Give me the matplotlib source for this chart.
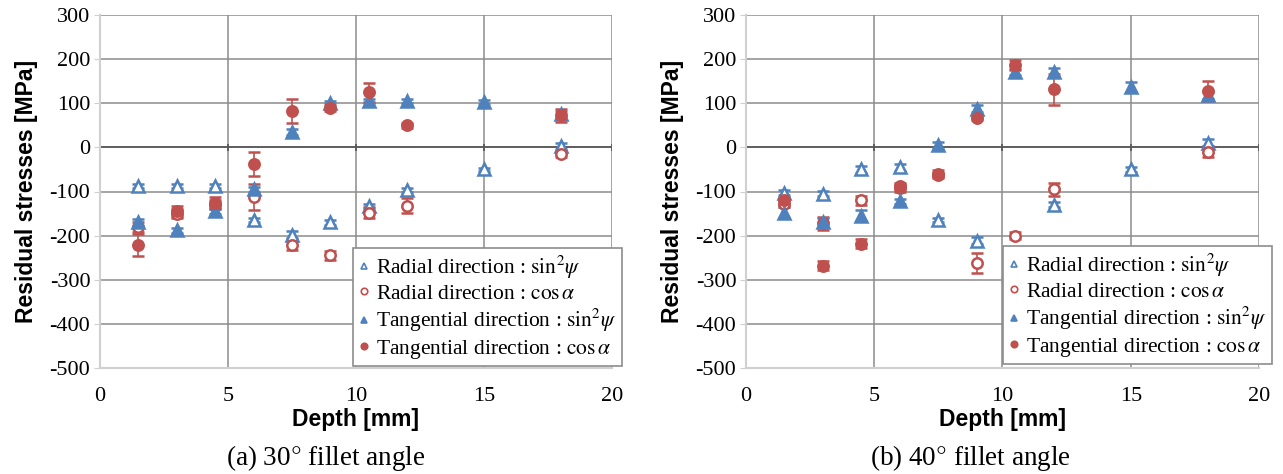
import numpy as np
import matplotlib
matplotlib.use("Agg")
import matplotlib.pyplot as plt
from matplotlib.lines import Line2D

plt.rcParams["font.family"] = ["Liberation Serif", "DejaVu Serif"]
plt.rcParams["mathtext.fontset"] = "stix"
plt.rcParams["axes.unicode_minus"] = False

nan = np.nan

# depth positions [mm]
depth = [1.5, 3, 4.5, 6, 7.5, 9, 10.5, 12, 15, 18]

# (a) 30 deg fillet angle
a_rad_sin = [-87, -87, -87, -165, -198, -170, -133, -97, -50, 3]
a_rad_sin_err = [5, 5, 5, 5, 8, 6, 5, 4, 4, 6]
a_rad_cos = [-180, -150, -130, -113, -222, -245, -148, -132, nan, -15]
a_rad_cos_err = [12, 10, 10, 30, 10, 10, 12, 17, 0, 7]
a_tan_sin = [-170, -188, -145, -95, 35, 100, 105, 105, 103, 75]
a_tan_sin_err = [8, 6, 6, 6, 6, 6, 5, 4, 4, 8]
a_tan_cos = [-222, -145, -125, -37, 83, 90, 125, 50, nan, 73]
a_tan_cos_err = [25, 12, 12, 27, 27, 8, 22, 5, 0, 15]

# (b) 40 deg fillet angle
b_rad_sin = [-103, -105, -50, -45, -165, -212, nan, -130, -50, 10]
b_rad_sin_err = [6, 6, 8, 8, 5, 8, 0, 6, 6, 8]
b_rad_cos = [-128, -172, -120, -92, -63, -262, -200, -95, nan, -10]
b_rad_cos_err = [8, 15, 10, 8, 6, 22, 8, 15, 0, 12]
b_tan_sin = [-148, -170, -155, -122, 5, 88, 170, 170, 137, 118]
b_tan_sin_err = [12, 10, 12, 6, 8, 8, 6, 10, 12, 8]
b_tan_cos = [-120, -268, -218, -88, -60, 67, 187, 132, nan, 128]
b_tan_cos_err = [8, 10, 10, 8, 8, 5, 10, 35, 0, 22]

labels = [
    r"Radial direction : $\mathrm{sin}^{2}\psi$",
    r"Radial direction : $\mathrm{cos}\,\alpha$",
    r"Tangential direction : $\mathrm{sin}^{2}\psi$",
    r"Tangential direction : $\mathrm{cos}\,\alpha$",
]
captions = [r"(a) 30$\degree$ fillet angle", r"(b) 40$\degree$ fillet angle"]
xticks = [0, 5, 10, 15, 20]
yticks = [-500, -400, -300, -200, -100, 0, 100, 200, 300]

BLUE = "#4F81BD"
RED = "#C0504D"
GRID = "#8C8C8C"

W, H = 1283, 474

STYLES = [
    dict(color=BLUE, marker="^", mfc="white", ms=8),
    dict(color=RED, marker="o", mfc="white", ms=7.5),
    dict(color=BLUE, marker="^", mfc=BLUE, ms=8),
    dict(color=RED, marker="o", mfc=RED, ms=7.5),
]


def panel(ax, series, leg_xy):
    ax.set_xlim(0, 20)
    ax.set_ylim(-500, 300)
    ax.set_xticks(xticks)
    ax.set_yticks(yticks)
    ax.grid(True, color=GRID, lw=1.1, zorder=0)
    ax.set_axisbelow(True)
    for s in ("top", "right"):
        ax.spines[s].set_visible(False)
    for s in ("left", "bottom"):
        ax.spines[s].set_color("#D0D0D0")
        ax.spines[s].set_linewidth(1.5)
    ax.tick_params(axis="y", length=4, color="#D0D0D0", labelsize=16, pad=3)
    ax.tick_params(axis="x", length=0, labelsize=16, pad=14)
    # darker zero line with small tick marks like the category axis
    ax.axhline(0, color="#5A5A5A", lw=1.3, zorder=1)
    ax.vlines(xticks, -8, 8, color="#5A5A5A", lw=1.3, zorder=1)

    handles = []
    for (vals, errs), st, lab in zip(series, STYLES, labels):
        ax.errorbar(depth, vals, yerr=errs, ls="none", marker=st["marker"],
                    ms=st["ms"], mfc=st["mfc"], mec=st["color"], mew=1.8,
                    ecolor=st["color"], elinewidth=1.2, capsize=4,
                    capthick=1.2, zorder=3)
        handles.append(Line2D([], [], ls="none", marker=st["marker"],
                              ms=st["ms"] * 0.62, mfc=st["mfc"],
                              mec=st["color"], mew=1.2, label=lab))

    ax.set_xlabel("Depth [mm]", family="Liberation Sans", weight="bold",
                  fontsize=16.5, labelpad=1)
    ax.set_ylabel("Residual stresses [MPa]", family="Liberation Sans",
                  weight="bold", fontsize=16.5, labelpad=8)

    leg = ax.legend(handles=handles, loc="upper left",
                    bbox_to_anchor=leg_xy, bbox_transform=ax.figure.transFigure,
                    fontsize=15.5, handlelength=0.5,
                    handletextpad=0.3, labelspacing=0.15, borderpad=0.25,
                    borderaxespad=0, fancybox=False, framealpha=1,
                    edgecolor="#8C8C8C")
    leg.get_frame().set_linewidth(1.2)
    leg.set_zorder(5)
    return leg


fig = plt.figure(figsize=(W / 100, H / 100), dpi=100)

ax1 = fig.add_axes([100 / W, 1 - 368 / H, 512 / W, 353 / H])
ax2 = fig.add_axes([746 / W, 1 - 368 / H, 513 / W, 353 / H])

panel(ax1,
      [(a_rad_sin, a_rad_sin_err), (a_rad_cos, a_rad_cos_err),
       (a_tan_sin, a_tan_sin_err), (a_tan_cos, a_tan_cos_err)],
      (353 / W, 1 - 248 / H))
panel(ax2,
      [(b_rad_sin, b_rad_sin_err), (b_rad_cos, b_rad_cos_err),
       (b_tan_sin, b_tan_sin_err), (b_tan_cos, b_tan_cos_err)],
      (1003 / W, 1 - 246 / H))

fig.text(326 / W, 1 - 458 / H, captions[0], ha="center", va="center", fontsize=19.5)
fig.text(970 / W, 1 - 458 / H, captions[1], ha="center", va="center", fontsize=19.5)

fig.savefig("out.png", dpi=100)
